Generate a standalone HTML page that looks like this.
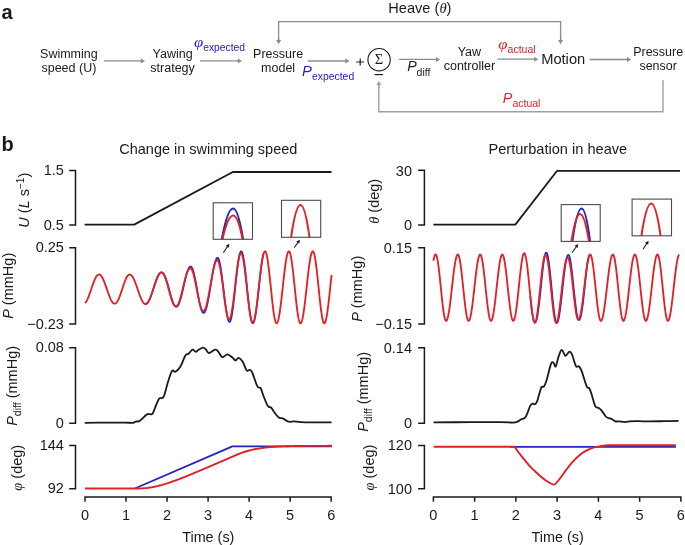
<!DOCTYPE html>
<html><head><meta charset="utf-8"><style>
html,body{margin:0;padding:0;background:#fff;}
svg{display:block;will-change:transform;}
text{font-family:'Liberation Sans',sans-serif;}
</style></head><body>
<svg width="685" height="545" viewBox="0 0 685 545">
<rect width="685" height="545" fill="#fff"/>
<text x="1.5" y="19" text-anchor="start" fill="#1a1a1a" style="font-size:20px;font-family:'Liberation Sans', sans-serif;font-weight:bold;" >a</text>
<text x="68.9" y="57.5" text-anchor="middle" fill="#1a1a1a" style="font-size:12.5px;font-family:'Liberation Sans', sans-serif;" >Swimming</text>
<text x="68.9" y="72.3" text-anchor="middle" fill="#1a1a1a" style="font-size:12.5px;font-family:'Liberation Sans', sans-serif;" >speed (U)</text>
<line x1="103.9" y1="60.9" x2="141.3" y2="60.9" stroke="#8c8c8c" stroke-width="1.3"/>
<path d="M145 60.9 L140.8 63.4 L140.8 58.4 Z" fill="#8c8c8c"/>
<text x="172.6" y="58" text-anchor="middle" fill="#1a1a1a" style="font-size:12.5px;font-family:'Liberation Sans', sans-serif;" >Yawing</text>
<text x="172.6" y="71.6" text-anchor="middle" fill="#1a1a1a" style="font-size:12.5px;font-family:'Liberation Sans', sans-serif;" >strategy</text>
<text transform="translate(194.1,46.9) scale(1.15,1)" fill="#2323c4" style="font-size:14.5px;font-family:'Liberation Serif', serif;font-style:italic">φ</text>
<text x="203.2" y="51.3" text-anchor="start" fill="#2323c4" style="font-size:10.3px;font-family:'Liberation Sans', sans-serif;" >expected</text>
<line x1="200.1" y1="60.9" x2="238.3" y2="60.9" stroke="#8c8c8c" stroke-width="1.3"/>
<path d="M242 60.9 L237.8 63.4 L237.8 58.4 Z" fill="#8c8c8c"/>
<text x="278.1" y="58" text-anchor="middle" fill="#1a1a1a" style="font-size:12.5px;font-family:'Liberation Sans', sans-serif;" >Pressure</text>
<text x="278.1" y="72" text-anchor="middle" fill="#1a1a1a" style="font-size:12.5px;font-family:'Liberation Sans', sans-serif;" >model</text>
<path d="M278.6 40 V21.7 H560.6 V40" fill="none" stroke="#8c8c8c" stroke-width="1.3"/>
<line x1="278.6" y1="38" x2="278.6" y2="40.6" stroke="#8c8c8c" stroke-width="1.3"/>
<path d="M278.6 44.3 L276.1 40.1 L281.1 40.1 Z" fill="#8c8c8c"/>
<line x1="560.6" y1="38" x2="560.6" y2="40.6" stroke="#8c8c8c" stroke-width="1.3"/>
<path d="M560.6 44.3 L558.1 40.1 L563.1 40.1 Z" fill="#8c8c8c"/>
<text x="388.3" y="12.6" text-anchor="start" fill="#1a1a1a" style="font-size:14.6px;font-family:'Liberation Sans', sans-serif;" >Heave (<tspan style="font-family:'Liberation Serif', serif;font-style:italic">θ</tspan>)</text>
<line x1="307.7" y1="61" x2="345.8" y2="61" stroke="#8c8c8c" stroke-width="1.3"/>
<path d="M349.5 61 L345.3 63.5 L345.3 58.5 Z" fill="#8c8c8c"/>
<text x="302" y="75.9" text-anchor="start" fill="#2323c4" style="font-size:14.8px;font-family:'Liberation Sans', sans-serif;font-style:italic;" >P</text>
<text x="312" y="79.8" text-anchor="start" fill="#2323c4" style="font-size:10.4px;font-family:'Liberation Sans', sans-serif;" >expected</text>
<path d="M356.2 62.0 H364.0 M360.2 58.5 V65.5" stroke="#1a1a1a" stroke-width="1.15" fill="none"/>
<circle cx="379.1" cy="59.7" r="11.2" fill="none" stroke="#1a1a1a" stroke-width="1.1"/>
<text x="379.1" y="64.2" text-anchor="middle" fill="#1a1a1a" style="font-size:14.5px;font-family:'Liberation Serif', serif;" >Σ</text>
<line x1="374.6" y1="74.6" x2="383" y2="74.6" stroke="#1a1a1a" stroke-width="1.2"/>
<line x1="399.1" y1="59.4" x2="436.5" y2="59.4" stroke="#8c8c8c" stroke-width="1.3"/>
<path d="M440.2 59.4 L436 61.9 L436 56.9 Z" fill="#8c8c8c"/>
<text x="407.2" y="71.3" text-anchor="start" fill="#1a1a1a" style="font-size:14.2px;font-family:'Liberation Sans', sans-serif;font-style:italic;" >P</text>
<text x="416.6" y="76" text-anchor="start" fill="#1a1a1a" style="font-size:10.5px;font-family:'Liberation Sans', sans-serif;" >diff</text>
<text x="469.4" y="55.6" text-anchor="middle" fill="#1a1a1a" style="font-size:12.5px;font-family:'Liberation Sans', sans-serif;" >Yaw</text>
<text x="469.4" y="70" text-anchor="middle" fill="#1a1a1a" style="font-size:12.5px;font-family:'Liberation Sans', sans-serif;" >controller</text>
<text transform="translate(498.3,48.9) scale(1.15,1)" fill="#e02228" style="font-size:14.5px;font-family:'Liberation Serif', serif;font-style:italic">φ</text>
<text x="507.6" y="53.3" text-anchor="start" fill="#e02228" style="font-size:10.5px;font-family:'Liberation Sans', sans-serif;" >actual</text>
<line x1="497.6" y1="59.2" x2="534.7" y2="59.2" stroke="#8c8c8c" stroke-width="1.3"/>
<path d="M538.4 59.2 L534.2 61.7 L534.2 56.7 Z" fill="#8c8c8c"/>
<text x="563.2" y="64.2" text-anchor="middle" fill="#1a1a1a" style="font-size:14.7px;font-family:'Liberation Sans', sans-serif;" >Motion</text>
<line x1="589.5" y1="59.5" x2="627.5" y2="59.5" stroke="#8c8c8c" stroke-width="1.3"/>
<path d="M631.2 59.5 L627 62 L627 57 Z" fill="#8c8c8c"/>
<text x="658.2" y="55.6" text-anchor="middle" fill="#1a1a1a" style="font-size:12.5px;font-family:'Liberation Sans', sans-serif;" >Pressure</text>
<text x="658.2" y="70.1" text-anchor="middle" fill="#1a1a1a" style="font-size:12.5px;font-family:'Liberation Sans', sans-serif;" >sensor</text>
<path d="M663 80.2 V111.8 H378.8 V85" fill="none" stroke="#a0a0a0" stroke-width="1.4"/>
<line x1="378.8" y1="88" x2="378.8" y2="84.6" stroke="#a0a0a0" stroke-width="1.3"/>
<path d="M378.8 80.9 L381.3 85.1 L376.3 85.1 Z" fill="#a0a0a0"/>
<text x="502.8" y="102.5" text-anchor="start" fill="#e02228" style="font-size:14.3px;font-family:'Liberation Sans', sans-serif;font-style:italic;" >P</text>
<text x="512.4" y="106.9" text-anchor="start" fill="#e02228" style="font-size:10.5px;font-family:'Liberation Sans', sans-serif;" >actual</text>
<text x="1.5" y="151" text-anchor="start" fill="#1a1a1a" style="font-size:20px;font-family:'Liberation Sans', sans-serif;font-weight:bold;" >b</text>
<text x="208.3" y="154" text-anchor="middle" fill="#1a1a1a" style="font-size:14.5px;font-family:'Liberation Sans', sans-serif;" >Change in swimming speed</text>
<text x="557.8" y="154" text-anchor="middle" fill="#1a1a1a" style="font-size:14.6px;font-family:'Liberation Sans', sans-serif;" >Perturbation in heave</text>
<path d="M69.2 170.5 H75.5 V225 H69.2" fill="none" stroke="#1a1a1a" stroke-width="1.5"/>
<text x="63.9" y="175.1" text-anchor="end" fill="#1a1a1a" style="font-size:14.5px;font-family:'Liberation Sans', sans-serif;" >1.5</text>
<text x="63.9" y="229.6" text-anchor="end" fill="#1a1a1a" style="font-size:14.5px;font-family:'Liberation Sans', sans-serif;" >0.5</text>
<path d="M69.2 247.7 H75.5 V323.9 H69.2" fill="none" stroke="#1a1a1a" stroke-width="1.5"/>
<text x="63.9" y="252.3" text-anchor="end" fill="#1a1a1a" style="font-size:14.5px;font-family:'Liberation Sans', sans-serif;" >0.25</text>
<text x="63.9" y="328.5" text-anchor="end" fill="#1a1a1a" style="font-size:14.5px;font-family:'Liberation Sans', sans-serif;" >−0.23</text>
<path d="M69.2 347.7 H75.5 V423.3 H69.2" fill="none" stroke="#1a1a1a" stroke-width="1.5"/>
<text x="63.9" y="352.3" text-anchor="end" fill="#1a1a1a" style="font-size:14.5px;font-family:'Liberation Sans', sans-serif;" >0.08</text>
<text x="63.9" y="427.9" text-anchor="end" fill="#1a1a1a" style="font-size:14.5px;font-family:'Liberation Sans', sans-serif;" >0</text>
<path d="M69.2 445.4 H75.5 V488.7 H69.2" fill="none" stroke="#1a1a1a" stroke-width="1.5"/>
<text x="63.9" y="450" text-anchor="end" fill="#1a1a1a" style="font-size:14.5px;font-family:'Liberation Sans', sans-serif;" >144</text>
<text x="63.9" y="493.3" text-anchor="end" fill="#1a1a1a" style="font-size:14.5px;font-family:'Liberation Sans', sans-serif;" >92</text>
<path d="M85 501.8 V497 H331.18 V501.8 M126.03 497 V501.8 M167.06 497 V501.8 M208.09 497 V501.8 M249.12 497 V501.8 M290.15 497 V501.8" fill="none" stroke="#1a1a1a" stroke-width="1.5"/>
<text x="85" y="519.8" text-anchor="middle" fill="#1a1a1a" style="font-size:14.5px;font-family:'Liberation Sans', sans-serif;" >0</text>
<text x="126.03" y="519.8" text-anchor="middle" fill="#1a1a1a" style="font-size:14.5px;font-family:'Liberation Sans', sans-serif;" >1</text>
<text x="167.06" y="519.8" text-anchor="middle" fill="#1a1a1a" style="font-size:14.5px;font-family:'Liberation Sans', sans-serif;" >2</text>
<text x="208.09" y="519.8" text-anchor="middle" fill="#1a1a1a" style="font-size:14.5px;font-family:'Liberation Sans', sans-serif;" >3</text>
<text x="249.12" y="519.8" text-anchor="middle" fill="#1a1a1a" style="font-size:14.5px;font-family:'Liberation Sans', sans-serif;" >4</text>
<text x="290.15" y="519.8" text-anchor="middle" fill="#1a1a1a" style="font-size:14.5px;font-family:'Liberation Sans', sans-serif;" >5</text>
<text x="331.18" y="519.8" text-anchor="middle" fill="#1a1a1a" style="font-size:14.5px;font-family:'Liberation Sans', sans-serif;" >6</text>
<text x="208.3" y="541.8" text-anchor="middle" fill="#1a1a1a" style="font-size:14.4px;font-family:'Liberation Sans', sans-serif;" >Time (s)</text>
<text transform="translate(28.8,200.2) rotate(-90)" text-anchor="middle" fill="#1a1a1a" style="font-size:14.5px;font-family:'Liberation Sans', sans-serif"><tspan style="font-style:italic">U</tspan> (<tspan style="font-style:italic">L</tspan> s<tspan dy="-5" style="font-size:10px">−1</tspan><tspan dy="5">)</tspan></text>
<text transform="translate(13.4,285.8) rotate(-90)" text-anchor="middle" fill="#1a1a1a" style="font-size:14.5px;font-family:'Liberation Sans', sans-serif"><tspan style="font-style:italic">P</tspan> (mmHg)</text>
<text transform="translate(17.4,385.9) rotate(-90)" text-anchor="middle" fill="#1a1a1a" style="font-size:14.5px;font-family:'Liberation Sans', sans-serif"><tspan style="font-style:italic">P</tspan><tspan dy="4" style="font-size:10.5px">diff</tspan><tspan dy="-4"> (mmHg)</tspan></text>
<text transform="translate(21.5,467.8) rotate(-90)" text-anchor="middle" fill="#1a1a1a" style="font-size:14.5px;font-family:'Liberation Sans', sans-serif"><tspan style="font-family:'Liberation Serif', serif;font-style:italic">φ</tspan> (deg)</text>
<path d="M418.1 170.2 H424.4 V225 H418.1" fill="none" stroke="#1a1a1a" stroke-width="1.5"/>
<text x="412" y="176" text-anchor="end" fill="#1a1a1a" style="font-size:14.5px;font-family:'Liberation Sans', sans-serif;" >30</text>
<text x="412" y="230" text-anchor="end" fill="#1a1a1a" style="font-size:14.5px;font-family:'Liberation Sans', sans-serif;" >0</text>
<path d="M418.1 247.7 H424.4 V323.9 H418.1" fill="none" stroke="#1a1a1a" stroke-width="1.5"/>
<text x="412" y="252.7" text-anchor="end" fill="#1a1a1a" style="font-size:14.5px;font-family:'Liberation Sans', sans-serif;" >0.15</text>
<text x="412" y="328.9" text-anchor="end" fill="#1a1a1a" style="font-size:14.5px;font-family:'Liberation Sans', sans-serif;" >−0.15</text>
<path d="M418.1 347.7 H424.4 V423.3 H418.1" fill="none" stroke="#1a1a1a" stroke-width="1.5"/>
<text x="412" y="352.7" text-anchor="end" fill="#1a1a1a" style="font-size:14.5px;font-family:'Liberation Sans', sans-serif;" >0.14</text>
<text x="412" y="428.3" text-anchor="end" fill="#1a1a1a" style="font-size:14.5px;font-family:'Liberation Sans', sans-serif;" >0</text>
<path d="M418.1 445.4 H424.4 V488.7 H418.1" fill="none" stroke="#1a1a1a" stroke-width="1.5"/>
<text x="412" y="450.4" text-anchor="end" fill="#1a1a1a" style="font-size:14.5px;font-family:'Liberation Sans', sans-serif;" >120</text>
<text x="412" y="493.7" text-anchor="end" fill="#1a1a1a" style="font-size:14.5px;font-family:'Liberation Sans', sans-serif;" >100</text>
<path d="M433.4 501.8 V497 H680.9 V501.8 M474.65 497 V501.8 M515.9 497 V501.8 M557.15 497 V501.8 M598.4 497 V501.8 M639.65 497 V501.8" fill="none" stroke="#1a1a1a" stroke-width="1.5"/>
<text x="433.4" y="519.8" text-anchor="middle" fill="#1a1a1a" style="font-size:14.5px;font-family:'Liberation Sans', sans-serif;" >0</text>
<text x="474.65" y="519.8" text-anchor="middle" fill="#1a1a1a" style="font-size:14.5px;font-family:'Liberation Sans', sans-serif;" >1</text>
<text x="515.9" y="519.8" text-anchor="middle" fill="#1a1a1a" style="font-size:14.5px;font-family:'Liberation Sans', sans-serif;" >2</text>
<text x="557.15" y="519.8" text-anchor="middle" fill="#1a1a1a" style="font-size:14.5px;font-family:'Liberation Sans', sans-serif;" >3</text>
<text x="598.4" y="519.8" text-anchor="middle" fill="#1a1a1a" style="font-size:14.5px;font-family:'Liberation Sans', sans-serif;" >4</text>
<text x="639.65" y="519.8" text-anchor="middle" fill="#1a1a1a" style="font-size:14.5px;font-family:'Liberation Sans', sans-serif;" >5</text>
<text x="680.9" y="519.8" text-anchor="middle" fill="#1a1a1a" style="font-size:14.5px;font-family:'Liberation Sans', sans-serif;" >6</text>
<text x="557.6" y="541.8" text-anchor="middle" fill="#1a1a1a" style="font-size:14.4px;font-family:'Liberation Sans', sans-serif;" >Time (s)</text>
<text transform="translate(379.4,201.3) rotate(-90)" text-anchor="middle" fill="#1a1a1a" style="font-size:14.5px;font-family:'Liberation Sans', sans-serif"><tspan style="font-family:'Liberation Serif', serif;font-style:italic">θ</tspan> (deg)</text>
<text transform="translate(361.6,288.8) rotate(-90)" text-anchor="middle" fill="#1a1a1a" style="font-size:14.5px;font-family:'Liberation Sans', sans-serif"><tspan style="font-style:italic">P</tspan> (mmHg)</text>
<text transform="translate(367.7,391.9) rotate(-90)" text-anchor="middle" fill="#1a1a1a" style="font-size:14.5px;font-family:'Liberation Sans', sans-serif"><tspan style="font-style:italic">P</tspan><tspan dy="4" style="font-size:10.5px">diff</tspan><tspan dy="-4"> (mmHg)</tspan></text>
<text transform="translate(373.8,467.6) rotate(-90)" text-anchor="middle" fill="#1a1a1a" style="font-size:14.5px;font-family:'Liberation Sans', sans-serif"><tspan style="font-family:'Liberation Serif', serif;font-style:italic">φ</tspan> (deg)</text>
<path d="M84.6 224.6 L134.2 224.6 L232.8 172 L331.5 172" fill="none" stroke="#1a1a1a" stroke-width="1.8" stroke-linejoin="round" stroke-linecap="butt" />
<path d="M433.3 224.6 L515.3 224.6 L557.1 170.8 L680 170.8" fill="none" stroke="#1a1a1a" stroke-width="1.8" stroke-linejoin="round" stroke-linecap="butt" />
<path d="M144.49 303.45 L144.9 303.65 L145.31 303.76 L145.72 303.77 L146.13 303.67 L146.55 303.48 L146.96 303.2 L147.37 302.82 L147.78 302.35 L148.19 301.8 L148.6 301.15 L149.01 300.42 L149.42 299.62 L149.83 298.74 L150.24 297.8 L150.65 296.79 L151.06 295.73 L151.47 294.62 L151.88 293.46 L152.29 292.27 L152.7 291.05 L153.11 289.82 L153.52 288.57 L153.93 287.31 L154.34 286.06 L154.75 284.82 L155.16 283.6 L155.57 282.41 L155.98 281.25 L156.39 280.14 L156.8 279.07 L157.21 278.06 L157.62 277.12 L158.03 276.25 L158.44 275.45 L158.85 274.73 L159.26 274.1 L159.67 273.56 L160.08 273.12 L160.5 272.78 L160.91 272.53 L161.32 272.39 L161.73 272.36 L162.14 272.45 L162.55 272.66 L162.96 273 L163.37 273.45 L163.78 274.02 L164.19 274.7 L164.6 275.5 L165.01 276.39 L165.42 277.39 L165.83 278.47 L166.24 279.64 L166.65 280.89 L167.06 282.19 L167.47 283.58 L167.88 285.02 L168.29 286.5 L168.7 288 L169.11 289.52 L169.52 291.03 L169.93 292.54 L170.34 294.03 L170.75 295.49 L171.16 296.9 L171.57 298.26 L171.98 299.55 L172.39 300.77 L172.8 301.9 L173.21 302.93 L173.62 303.85 L174.04 304.66 L174.45 305.35 L174.86 305.92 L175.27 306.35 L175.68 306.65 L176.09 306.8 L176.5 306.81 L176.91 306.66 L177.32 306.37 L177.73 305.92 L178.14 305.32 L178.55 304.57 L178.96 303.69 L179.37 302.67 L179.78 301.52 L180.19 300.25 L180.6 298.88 L181.01 297.4 L181.42 295.84 L181.83 294.19 L182.24 292.49 L182.65 290.73 L183.06 288.94 L183.47 287.12 L183.88 285.3 L184.29 283.49 L184.7 281.7 L185.11 279.94 L185.52 278.24 L185.93 276.6 L186.34 275.05 L186.75 273.59 L187.16 272.24 L187.57 271 L187.99 269.9 L188.4 268.93 L188.81 268.12 L189.22 267.46 L189.63 266.97 L190.04 266.65 L190.45 266.51 L190.86 266.57 L191.27 266.84 L191.68 267.32 L192.09 268.02 L192.5 268.91 L192.91 270.01 L193.32 271.29 L193.73 272.75 L194.14 274.38 L194.55 276.16 L194.96 278.07 L195.37 280.1 L195.78 282.23 L196.19 284.43 L196.6 286.69 L197.01 288.99 L197.42 291.29 L197.83 293.59 L198.24 295.86 L198.65 298.06 L199.06 300.19 L199.47 302.22 L199.88 304.13 L200.29 305.9 L200.7 307.5 L201.11 308.93 L201.53 310.16 L201.94 311.19 L202.35 312 L202.76 312.57 L203.17 312.91 L203.58 313 L203.99 312.89 L204.4 312.55 L204.81 312 L205.22 311.24 L205.63 310.28 L206.04 309.11 L206.45 307.74 L206.86 306.2 L207.27 304.48 L207.68 302.6 L208.09 300.57 L208.5 298.42 L208.91 296.15 L209.32 293.79 L209.73 291.35 L210.14 288.86 L210.55 286.33 L210.96 283.79 L211.37 281.25 L211.78 278.75 L212.19 276.29 L212.6 273.91 L213.01 271.62 L213.42 269.45 L213.83 267.41 L214.24 265.52 L214.65 263.8 L215.07 262.27 L215.48 260.93 L215.89 259.82 L216.3 258.93 L216.71 258.27 L217.12 257.86 L217.53 257.71 L217.94 257.89 L218.35 258.42 L218.76 259.29 L219.17 260.5 L219.58 262.04 L219.99 263.88 L220.4 266.03 L220.81 268.44 L221.22 271.1 L221.63 273.97 L222.04 277.04 L222.45 280.25 L222.86 283.58 L223.27 286.99 L223.68 290.44 L224.09 293.89 L224.5 297.31 L224.91 300.64 L225.32 303.85 L225.73 306.9 L226.14 309.76 L226.55 312.39 L226.96 314.75 L227.37 316.82 L227.78 318.57 L228.19 319.98 L228.61 321.02 L229.02 321.68 L229.43 321.95 L229.84 321.81 L230.25 321.27 L230.66 320.32 L231.07 318.97 L231.48 317.23 L231.89 315.13 L232.3 312.67 L232.71 309.9 L233.12 306.73 L233.53 303.34 L233.94 299.77 L234.35 296.04 L234.76 292.21 L235.17 288.33 L235.58 284.43 L235.99 280.57 L236.4 276.79 L236.81 273.13 L237.22 269.63 L237.63 266.35 L238.04 263.3 L238.45 260.54 L238.86 258.1 L239.27 255.99 L239.68 254.25 L240.09 252.9 L240.5 251.96 L240.91 251.42 L241.32 251.31 L241.73 251.64 L242.14 252.41 L242.56 253.61 L242.97 255.22 L243.38 257.23 L243.79 259.61 L244.2 262.33 L244.61 265.35 L245.02 268.65 L245.43 272.17 L245.84 275.89 L246.25 279.74 L246.66 283.68 L247.07 287.67 L247.48 291.66 L247.89 295.59 L248.3 299.42 L248.71 303.1 L249.12 306.58 L249.53 309.83 L249.94 312.8 L250.35 315.46 L250.76 317.77 L251.17 319.71 L251.58 321.24 L251.99 322.36 L252.4 323.05 L252.81 323.3 L253.22 323.12 L253.63 322.54 L254.04 321.55 L254.45 320.18 L254.86 318.43 L255.27 316.34 L255.68 313.91 L256.1 311.18 L256.51 308.19 L256.92 304.95 L257.33 301.52 L257.74 297.92 L258.15 294.21 L258.56 290.41 L258.97 286.58 L259.38 282.76 L259.79 278.99 L260.2 275.32 L260.61 271.78 L261.02 268.41 L261.43 265.26 L261.84 262.41 L262.25 259.82 L262.66 257.54 L263.07 255.59 L263.48 253.98" fill="none" stroke="#2323c4" stroke-width="1.7" stroke-linejoin="round" stroke-linecap="butt" />
<path d="M85 303.06 L85.41 302.65 L85.82 302.15 L86.23 301.56 L86.64 300.88 L87.05 300.13 L87.46 299.29 L87.87 298.39 L88.28 297.42 L88.69 296.39 L89.1 295.31 L89.51 294.19 L89.92 293.03 L90.33 291.85 L90.74 290.64 L91.15 289.43 L91.56 288.21 L91.98 287 L92.39 285.81 L92.8 284.64 L93.21 283.49 L93.62 282.39 L94.03 281.34 L94.44 280.33 L94.85 279.39 L95.26 278.52 L95.67 277.72 L96.08 277 L96.49 276.36 L96.9 275.81 L97.31 275.35 L97.72 274.99 L98.13 274.73 L98.54 274.56 L98.95 274.5 L99.36 274.54 L99.77 274.67 L100.18 274.91 L100.59 275.23 L101 275.66 L101.41 276.17 L101.82 276.77 L102.23 277.45 L102.64 278.21 L103.05 279.04 L103.46 279.95 L103.87 280.91 L104.28 281.93 L104.69 283 L105.1 284.1 L105.52 285.25 L105.93 286.41 L106.34 287.6 L106.75 288.8 L107.16 289.99 L107.57 291.19 L107.98 292.36 L108.39 293.52 L108.8 294.65 L109.21 295.74 L109.62 296.78 L110.03 297.77 L110.44 298.71 L110.85 299.58 L111.26 300.37 L111.67 301.1 L112.08 301.74 L112.49 302.3 L112.9 302.76 L113.31 303.14 L113.72 303.42 L114.13 303.61 L114.54 303.69 L114.95 303.68 L115.36 303.56 L115.77 303.33 L116.18 303 L116.59 302.57 L117 302.03 L117.41 301.4 L117.82 300.68 L118.23 299.88 L118.64 298.99 L119.05 298.04 L119.47 297.01 L119.88 295.93 L120.29 294.8 L120.7 293.62 L121.11 292.41 L121.52 291.18 L121.93 289.93 L122.34 288.68 L122.75 287.43 L123.16 286.19 L123.57 284.97 L123.98 283.79 L124.39 282.64 L124.8 281.54 L125.21 280.5 L125.62 279.51 L126.03 278.6 L126.44 277.77 L126.85 277.02 L127.26 276.36 L127.67 275.8 L128.08 275.33 L128.49 274.96 L128.9 274.7 L129.31 274.55 L129.72 274.5 L130.13 274.55 L130.54 274.7 L130.95 274.95 L131.36 275.29 L131.77 275.72 L132.18 276.25 L132.59 276.85 L133.01 277.54 L133.42 278.31 L133.83 279.14 L134.24 280.05 L134.65 280.99 L135.06 281.99 L135.47 283.04 L135.88 284.14 L136.29 285.27 L136.7 286.43 L137.11 287.61 L137.52 288.8 L137.93 290 L138.34 291.2 L138.75 292.38 L139.16 293.55 L139.57 294.69 L139.98 295.8 L140.39 296.86 L140.8 297.87 L141.21 298.83 L141.62 299.73 L142.03 300.56 L142.44 301.31 L142.85 301.98 L143.26 302.57 L143.67 303.07 L144.08 303.47 L144.49 303.78 L144.9 303.99 L145.31 304.1 L145.72 304.11 L146.13 304.02 L146.55 303.83 L146.96 303.53 L147.37 303.13 L147.78 302.64 L148.19 302.05 L148.6 301.37 L149.01 300.61 L149.42 299.76 L149.83 298.84 L150.24 297.84 L150.65 296.78 L151.06 295.67 L151.47 294.51 L151.88 293.3 L152.29 292.06 L152.7 290.79 L153.11 289.51 L153.52 288.21 L153.93 286.92 L154.34 285.64 L154.75 284.37 L155.16 283.13 L155.57 281.92 L155.98 280.76 L156.39 279.64 L156.8 278.58 L157.21 277.59 L157.62 276.67 L158.03 275.83 L158.44 275.08 L158.85 274.41 L159.26 273.83 L159.67 273.36 L160.08 272.99 L160.5 272.72 L160.91 272.56 L161.32 272.49 L161.73 272.53 L162.14 272.69 L162.55 272.98 L162.96 273.39 L163.37 273.92 L163.78 274.57 L164.19 275.34 L164.6 276.21 L165.01 277.19 L165.42 278.26 L165.83 279.43 L166.24 280.67 L166.65 281.98 L167.06 283.35 L167.47 284.77 L167.88 286.22 L168.29 287.71 L168.7 289.21 L169.11 290.72 L169.52 292.22 L169.93 293.69 L170.34 295.14 L170.75 296.54 L171.16 297.89 L171.57 299.18 L171.98 300.39 L172.39 301.51 L172.8 302.53 L173.21 303.46 L173.62 304.27 L174.04 304.96 L174.45 305.52 L174.86 305.96 L175.27 306.26 L175.68 306.42 L176.09 306.43 L176.5 306.3 L176.91 306.01 L177.32 305.57 L177.73 304.99 L178.14 304.27 L178.55 303.42 L178.96 302.43 L179.37 301.32 L179.78 300.1 L180.19 298.77 L180.6 297.35 L181.01 295.85 L181.42 294.27 L181.83 292.64 L182.24 290.96 L182.65 289.26 L183.06 287.53 L183.47 285.8 L183.88 284.08 L184.29 282.39 L184.7 280.73 L185.11 279.13 L185.52 277.6 L185.93 276.14 L186.34 274.78 L186.75 273.52 L187.16 272.38 L187.57 271.36 L187.99 270.47 L188.4 269.72 L188.81 269.13 L189.22 268.68 L189.63 268.4 L190.04 268.27 L190.45 268.27 L190.86 268.46 L191.27 268.85 L191.68 269.44 L192.09 270.22 L192.5 271.18 L192.91 272.32 L193.32 273.63 L193.73 275.1 L194.14 276.71 L194.55 278.45 L194.96 280.31 L195.37 282.26 L195.78 284.28 L196.19 286.37 L196.6 288.49 L197.01 290.63 L197.42 292.76 L197.83 294.87 L198.24 296.93 L198.65 298.92 L199.06 300.83 L199.47 302.62 L199.88 304.29 L200.29 305.81 L200.7 307.17 L201.11 308.35 L201.53 309.33 L201.94 310.12 L202.35 310.69 L202.76 311.04 L203.17 311.17 L203.58 311.11 L203.99 310.84 L204.4 310.38 L204.81 309.72 L205.22 308.86 L205.63 307.81 L206.04 306.59 L206.45 305.18 L206.86 303.62 L207.27 301.9 L207.68 300.05 L208.09 298.07 L208.5 295.98 L208.91 293.8 L209.32 291.55 L209.73 289.25 L210.14 286.9 L210.55 284.55 L210.96 282.19 L211.37 279.87 L211.78 277.58 L212.19 275.36 L212.6 273.23 L213.01 271.2 L213.42 269.29 L213.83 267.52 L214.24 265.9 L214.65 264.46 L215.07 263.2 L215.48 262.14 L215.89 261.28 L216.3 260.65 L216.71 260.24 L217.12 260.05 L217.53 260.14 L217.94 260.55 L218.35 261.28 L218.76 262.32 L219.17 263.67 L219.58 265.31 L219.99 267.23 L220.4 269.41 L220.81 271.82 L221.22 274.44 L221.63 277.24 L222.04 280.19 L222.45 283.25 L222.86 286.4 L223.27 289.59 L223.68 292.79 L224.09 295.96 L224.5 299.07 L224.91 302.07 L225.32 304.93 L225.73 307.62 L226.14 310.1 L226.55 312.34 L226.96 314.31 L227.37 315.99 L227.78 317.36 L228.19 318.39 L228.61 319.07 L229.02 319.38 L229.43 319.24 L229.84 318.74 L230.25 317.86 L230.66 316.62 L231.07 315.03 L231.48 313.1 L231.89 310.87 L232.3 308.34 L232.71 305.56 L233.12 302.55 L233.53 299.35 L233.94 295.99 L234.35 292.52 L234.76 288.96 L235.17 285.37 L235.58 281.79 L235.99 278.25 L236.4 274.81 L236.81 271.49 L237.22 268.34 L237.63 265.4 L238.04 262.71 L238.45 260.29 L238.86 258.18 L239.27 256.4 L239.68 254.97 L240.09 253.92 L240.5 253.26 L240.91 253 L241.32 253.17 L241.73 253.75 L242.14 254.73 L242.56 256.11 L242.97 257.86 L243.38 259.97 L243.79 262.41 L244.2 265.15 L244.61 268.16 L245.02 271.41 L245.43 274.86 L245.84 278.47 L246.25 282.19 L246.66 285.98 L247.07 289.8 L247.48 293.6 L247.89 297.33 L248.3 300.95 L248.71 304.42 L249.12 307.69 L249.53 310.73 L249.94 313.49 L250.35 315.95 L250.76 318.08 L251.17 319.84 L251.58 321.22 L251.99 322.19 L252.4 322.76 L252.81 322.89 L253.22 322.6 L253.63 321.92 L254.04 320.87 L254.45 319.44 L254.86 317.66 L255.27 315.54 L255.68 313.12 L256.1 310.4 L256.51 307.44 L256.92 304.25 L257.33 300.87 L257.74 297.34 L258.15 293.69 L258.56 289.98 L258.97 286.23 L259.38 282.49 L259.79 278.8 L260.2 275.2 L260.61 271.73 L261.02 268.43 L261.43 265.34 L261.84 262.48 L262.25 259.89 L262.66 257.6 L263.07 255.64 L263.48 254.02 L263.89 252.77 L264.3 251.89 L264.71 251.41 L265.12 251.32 L265.53 251.67 L265.94 252.47 L266.35 253.69 L266.76 255.33 L267.17 257.36 L267.58 259.76 L267.99 262.5 L268.4 265.55 L268.81 268.86 L269.22 272.4 L269.63 276.13 L270.05 279.99 L270.46 283.95 L270.87 287.94 L271.28 291.93 L271.69 295.86 L272.1 299.69 L272.51 303.36 L272.92 306.83 L273.33 310.06 L273.74 313.02 L274.15 315.65 L274.56 317.94 L274.97 319.84 L275.38 321.35 L275.79 322.44 L276.2 323.09 L276.61 323.3 L277.02 323.09 L277.43 322.49 L277.84 321.51 L278.25 320.15 L278.66 318.42 L279.07 316.36 L279.48 313.98 L279.89 311.3 L280.3 308.36 L280.71 305.2 L281.12 301.83 L281.53 298.3 L281.94 294.66 L282.35 290.93 L282.76 287.17 L283.17 283.4 L283.59 279.68 L284 276.04 L284.41 272.52 L284.82 269.17 L285.23 266.02 L285.64 263.1 L286.05 260.44 L286.46 258.08 L286.87 256.04 L287.28 254.35 L287.69 253.01 L288.1 252.05 L288.51 251.48 L288.92 251.3 L289.33 251.54 L289.74 252.23 L290.15 253.34 L290.56 254.88 L290.97 256.81 L291.38 259.12 L291.79 261.78 L292.2 264.76 L292.61 268.01 L293.02 271.5 L293.43 275.18 L293.84 279.02 L294.25 282.95 L294.66 286.94 L295.07 290.94 L295.48 294.89 L295.89 298.74 L296.3 302.46 L296.71 305.98 L297.13 309.28 L297.54 312.31 L297.95 315.02 L298.36 317.4 L298.77 319.4 L299.18 321.01 L299.59 322.2 L300 322.97 L300.41 323.29 L300.82 323.18 L301.23 322.68 L301.64 321.79 L302.05 320.52 L302.46 318.89 L302.87 316.91 L303.28 314.6 L303.69 312 L304.1 309.12 L304.51 306.01 L304.92 302.69 L305.33 299.2 L305.74 295.58 L306.15 291.87 L306.56 288.11 L306.97 284.34 L307.38 280.6 L307.79 276.94 L308.2 273.39 L308.61 269.99 L309.02 266.79 L309.43 263.8 L309.84 261.08 L310.25 258.64 L310.67 256.52 L311.08 254.74 L311.49 253.31 L311.9 252.26 L312.31 251.59 L312.72 251.31 L313.13 251.44 L313.54 252.03 L313.95 253.05 L314.36 254.51 L314.77 256.38 L315.18 258.63 L315.59 261.25 L316 264.19 L316.41 267.43 L316.82 270.91 L317.23 274.6 L317.64 278.44 L318.05 282.4 L318.46 286.42 L318.87 290.45 L319.28 294.44 L319.69 298.35 L320.1 302.11 L320.51 305.69 L320.92 309.03 L321.33 312.11 L321.74 314.87 L322.15 317.29 L322.56 319.33 L322.97 320.96 L323.38 322.18 L323.79 322.96 L324.2 323.29 L324.62 323.18 L325.03 322.64 L325.44 321.69 L325.85 320.34 L326.26 318.6 L326.67 316.5 L327.08 314.05 L327.49 311.29 L327.9 308.24 L328.31 304.96 L328.72 301.46 L329.13 297.8 L329.54 294.01 L329.95 290.15 L330.36 286.25 L330.77 282.37 L331.18 278.54 L331.59 274.82" fill="none" stroke="#e02228" stroke-width="1.85" stroke-linejoin="round" stroke-linecap="butt" />
<path d="M530.34 296.24 L530.75 300.29 L531.16 304.16 L531.57 307.78 L531.99 311.1 L532.4 314.08 L532.81 316.47 L533.23 318.5 L533.64 320.15 L534.05 321.38 L534.46 322.19 L534.88 322.57 L535.29 322.5 L535.7 322.02 L536.11 321.11 L536.52 319.8 L536.94 318.09 L537.35 316.02 L537.76 313.6 L538.17 310.86 L538.59 307.83 L539 304.56 L539.41 301.09 L539.82 297.44 L540.24 293.68 L540.65 289.84 L541.06 285.64 L541.48 281.46 L541.89 277.37 L542.3 273.43 L542.71 269.68 L543.12 266.2 L543.54 263.02 L543.95 260.2 L544.36 257.77 L544.77 255.76 L545.19 254.22 L545.6 253.16 L546.01 252.59 L546.42 252.54 L546.84 253.01 L547.25 253.99 L547.66 255.48 L548.08 257.45 L548.49 259.88 L548.9 262.72 L549.31 265.93 L549.72 269.47 L550.14 273.28 L550.55 277.31 L550.96 281.49 L551.38 285.77 L551.79 290.08 L552.2 294.35 L552.61 298.52 L553.02 302.54 L553.44 306.33 L553.85 309.84 L554.26 313.03 L554.67 315.84 L555.09 318.23 L555.5 320.16 L555.91 321.61 L556.32 322.55 L556.74 322.98 L557.15 322.8 L557.56 322.17 L557.98 321.11 L558.39 319.63 L558.8 317.76 L559.21 315.51 L559.62 312.93 L560.04 310.04 L560.45 306.88 L560.86 303.49 L561.27 299.93 L561.69 296.23 L562.1 292.44 L562.51 288.61 L562.92 284.79 L563.34 281.02 L563.75 277.37 L564.16 273.86 L564.58 270.55 L564.99 267.47 L565.4 264.67 L565.81 262.17 L566.23 260.01 L566.64 258.22 L567.05 256.8 L567.46 255.79 L567.88 255.19 L568.29 254.93 L568.7 255.11 L569.11 255.78 L569.52 256.92 L569.94 258.52 L570.35 260.56 L570.76 262.99 L571.17 265.79 L571.59 268.92 L572 272.32 L572.41 275.94 L572.82 279.73 L573.24 283.64 L573.65 287.6 L574.06 291.56 L574.47 295.46 L574.89 299.23 L575.3 302.83 L575.71 306.19 L576.12 309.28 L576.54 312.04 L576.95 314.43 L577.36 316.42 L577.77 317.98 L578.19 319.08 L578.6 319.72 L579.01 319.93 L579.42 319.73 L579.84 319.14 L580.25 318.19 L580.66 316.86 L581.08 315.19 L581.49 313.19 L581.9 310.88 L582.31 308 L582.73 304.82 L583.14 301.38 L583.55 297.73 L583.96 293.93 L584.38 290.04 L584.79 286.1 L585.2 282.17 L585.61 278.32 L586.02 274.59 L586.44 271.05 L586.85 267.74 L587.26 264.71 L587.67 262.01 L588.09 259.68 L588.5 257.92 L588.91 256.5 L589.33 255.45 L589.74 254.78 L590.15 254.5" fill="none" stroke="#2323c4" stroke-width="1.7" stroke-linejoin="round" stroke-linecap="butt" />
<path d="M433.4 260.76 L433.81 258.68 L434.22 256.99 L434.64 255.73 L435.05 254.9 L435.46 254.53 L435.88 254.61 L436.29 255.2 L436.7 256.28 L437.11 257.84 L437.52 259.86 L437.94 262.29 L438.35 265.12 L438.76 268.29 L439.17 271.75 L439.59 275.46 L440 279.35 L440.41 283.37 L440.82 287.45 L441.24 291.54 L441.65 295.57 L442.06 299.48 L442.47 303.21 L442.89 306.71 L443.3 309.92 L443.71 312.78 L444.12 315.27 L444.54 317.34 L444.95 318.95 L445.36 320.1 L445.77 320.74 L446.19 320.89 L446.6 320.6 L447.01 319.91 L447.42 318.82 L447.84 317.35 L448.25 315.52 L448.66 313.35 L449.07 310.86 L449.49 308.09 L449.9 305.07 L450.31 301.83 L450.72 298.42 L451.14 294.89 L451.55 291.26 L451.96 287.59 L452.38 283.92 L452.79 280.3 L453.2 276.76 L453.61 273.37 L454.02 270.14 L454.44 267.14 L454.85 264.38 L455.26 261.91 L455.67 259.76 L456.09 257.95 L456.5 256.5 L456.91 255.44 L457.32 254.77 L457.74 254.5 L458.15 254.67 L458.56 255.31 L458.97 256.42 L459.39 257.98 L459.8 259.96 L460.21 262.35 L460.62 265.09 L461.04 268.17 L461.45 271.52 L461.86 275.11 L462.27 278.87 L462.69 282.77 L463.1 286.73 L463.51 290.71 L463.92 294.65 L464.34 298.49 L464.75 302.17 L465.16 305.64 L465.57 308.86 L465.99 311.77 L466.4 314.33 L466.81 316.51 L467.22 318.28 L467.64 319.61 L468.05 320.48 L468.46 320.87 L468.88 320.81 L469.29 320.33 L469.7 319.44 L470.11 318.15 L470.52 316.49 L470.94 314.47 L471.35 312.11 L471.76 309.45 L472.17 306.52 L472.59 303.35 L473 299.99 L473.41 296.47 L473.82 292.85 L474.24 289.16 L474.65 285.45 L475.06 281.78 L475.47 278.17 L475.89 274.68 L476.3 271.36 L476.71 268.24 L477.12 265.36 L477.54 262.76 L477.95 260.48 L478.36 258.53 L478.77 256.94 L479.19 255.74 L479.6 254.94 L480.01 254.54 L480.42 254.57 L480.84 255.07 L481.25 256.04 L481.66 257.46 L482.07 259.32 L482.49 261.58 L482.9 264.22 L483.31 267.2 L483.72 270.48 L484.14 274 L484.55 277.72 L484.96 281.58 L485.38 285.53 L485.79 289.51 L486.2 293.47 L486.61 297.34 L487.02 301.07 L487.44 304.61 L487.85 307.91 L488.26 310.92 L488.67 313.59 L489.09 315.89 L489.5 317.79 L489.91 319.25 L490.32 320.26 L490.74 320.8 L491.15 320.87 L491.56 320.49 L491.97 319.69 L492.39 318.46 L492.8 316.83 L493.21 314.81 L493.62 312.44 L494.04 309.75 L494.45 306.76 L494.86 303.53 L495.27 300.08 L495.69 296.48 L496.1 292.76 L496.51 288.97 L496.92 285.16 L497.34 281.39 L497.75 277.7 L498.16 274.15 L498.57 270.77 L498.99 267.61 L499.4 264.72 L499.81 262.13 L500.22 259.87 L500.64 257.98 L501.05 256.48 L501.46 255.4 L501.88 254.73 L502.29 254.5 L502.7 254.72 L503.11 255.39 L503.52 256.51 L503.94 258.06 L504.35 260.03 L504.76 262.38 L505.17 265.08 L505.59 268.09 L506 271.37 L506.41 274.89 L506.82 278.57 L507.24 282.39 L507.65 286.28 L508.06 290.19 L508.47 294.06 L508.89 297.85 L509.3 301.49 L509.71 304.95 L510.12 308.16 L510.54 311.09 L510.95 313.7 L511.36 315.95 L511.77 317.8 L512.19 319.24 L512.6 320.24 L513.01 320.79 L513.42 320.88 L513.84 320.5 L514.25 319.66 L514.66 318.37 L515.07 316.65 L515.49 314.52 L515.9 312.01 L516.31 309.2 L516.73 306.07 L517.14 302.67 L517.55 299.05 L517.96 295.25 L518.38 291.33 L518.79 287.34 L519.2 283.33 L519.61 279.38 L520.02 275.52 L520.44 271.82 L520.85 268.33 L521.26 265.1 L521.67 262.18 L522.09 259.6 L522.5 257.42 L522.91 255.65 L523.33 254.33 L523.74 253.48 L524.15 253.1 L524.56 253.29 L524.98 253.99 L525.39 255.19 L525.8 256.88 L526.21 259.03 L526.62 261.61 L527.04 264.58 L527.45 267.9 L527.86 271.51 L528.27 275.37 L528.69 279.42 L529.1 283.59 L529.51 287.83 L529.92 292.07 L530.34 296.24 L530.75 300.29 L531.16 304.16 L531.57 307.78 L531.99 311.1 L532.4 314.08 L532.81 316.66 L533.23 318.82 L533.64 320.51 L534.05 321.71 L534.46 322.4 L534.88 322.58 L535.29 322.25 L535.7 321.33 L536.11 319.94 L536.52 318.09 L536.94 315.81 L537.35 313.13 L537.76 310.11 L538.17 306.78 L538.59 303.18 L539 299.39 L539.41 295.44 L539.82 291.4 L540.24 287.33 L540.65 283.28 L541.06 279.32 L541.48 275.49 L541.89 271.86 L542.3 268.47 L542.71 265.37 L543.12 262.61 L543.54 260.23 L543.95 258.25 L544.36 256.7 L544.77 255.6 L545.19 254.98 L545.6 254.82 L546.01 255.14 L546.42 255.78 L546.84 256.9 L547.25 258.49 L547.66 260.52 L548.08 262.98 L548.49 265.82 L548.9 269 L549.31 272.48 L549.72 276.21 L550.14 280.14 L550.55 284.19 L550.96 288.33 L551.38 292.48 L551.79 296.58 L552.2 300.57 L552.61 304.39 L553.02 307.98 L553.44 311.29 L553.85 314.26 L554.26 316.85 L554.67 319.02 L555.09 320.73 L555.5 321.96 L555.91 322.68 L556.32 322.88 L556.74 322.62 L557.15 321.62 L557.56 320.2 L557.98 318.38 L558.39 316.2 L558.8 313.68 L559.21 310.86 L559.62 307.78 L560.04 304.49 L560.45 301.02 L560.86 297.43 L561.27 293.75 L561.69 290.05 L562.1 286.36 L562.51 282.74 L562.92 279.23 L563.34 275.87 L563.75 272.7 L564.16 269.76 L564.58 267.09 L564.99 264.72 L565.4 262.67 L565.81 260.96 L566.23 259.62 L566.64 258.65 L567.05 258.06 L567.46 257.86 L567.88 258.04 L568.29 258.35 L568.7 259.11 L569.11 260.3 L569.52 261.91 L569.94 263.92 L570.35 266.29 L570.76 269 L571.17 272.01 L571.59 275.27 L572 278.75 L572.41 282.37 L572.82 286.1 L573.24 289.88 L573.65 293.64 L574.06 297.35 L574.47 300.93 L574.89 304.33 L575.3 307.5 L575.71 310.4 L576.12 312.98 L576.54 315.19 L576.95 317 L577.36 318.39 L577.77 319.32 L578.19 319.79 L578.6 319.8 L579.01 319.37 L579.42 318.56 L579.84 317.38 L580.25 315.85 L580.66 313.98 L581.08 311.8 L581.49 309.32 L581.9 306.59 L582.31 303.62 L582.73 300.46 L583.14 297.14 L583.55 293.7 L583.96 290.18 L584.38 286.62 L584.79 283.07 L585.2 279.57 L585.61 276.15 L586.02 272.87 L586.44 269.75 L586.85 266.84 L587.26 264.17 L587.67 261.78 L588.09 259.68 L588.5 257.92 L588.91 256.5 L589.33 255.45 L589.74 254.78 L590.15 254.5 L590.56 254.69 L590.98 255.36 L591.39 256.5 L591.8 258.1 L592.21 260.13 L592.62 262.57 L593.04 265.37 L593.45 268.5 L593.86 271.92 L594.27 275.56 L594.69 279.38 L595.1 283.33 L595.51 287.33 L595.92 291.35 L596.34 295.31 L596.75 299.16 L597.16 302.84 L597.58 306.3 L597.99 309.48 L598.4 312.35 L598.81 314.86 L599.23 316.97 L599.64 318.65 L600.05 319.87 L600.46 320.63 L600.88 320.9 L601.29 320.73 L601.7 320.17 L602.11 319.24 L602.52 317.94 L602.94 316.29 L603.35 314.3 L603.76 312.01 L604.17 309.43 L604.59 306.59 L605 303.54 L605.41 300.3 L605.82 296.92 L606.24 293.43 L606.65 289.87 L607.06 286.29 L607.47 282.72 L607.89 279.21 L608.3 275.8 L608.71 272.53 L609.12 269.44 L609.54 266.55 L609.95 263.92 L610.36 261.56 L610.77 259.51 L611.19 257.78 L611.6 256.4 L612.01 255.39 L612.42 254.76 L612.84 254.5 L613.25 254.68 L613.66 255.36 L614.07 256.53 L614.49 258.18 L614.9 260.27 L615.31 262.78 L615.72 265.67 L616.14 268.9 L616.55 272.41 L616.96 276.15 L617.38 280.07 L617.79 284.11 L618.2 288.2 L618.61 292.28 L619.02 296.29 L619.44 300.18 L619.85 303.87 L620.26 307.31 L620.67 310.46 L621.09 313.27 L621.5 315.68 L621.91 317.67 L622.33 319.2 L622.74 320.25 L623.15 320.81 L623.56 320.87 L623.98 320.49 L624.39 319.7 L624.8 318.5 L625.21 316.91 L625.62 314.95 L626.04 312.65 L626.45 310.03 L626.86 307.12 L627.27 303.97 L627.69 300.61 L628.1 297.09 L628.51 293.45 L628.92 289.74 L629.34 286 L629.75 282.28 L630.16 278.63 L630.58 275.1 L630.99 271.73 L631.4 268.55 L631.81 265.63 L632.23 262.98 L632.64 260.64 L633.05 258.65 L633.46 257.03 L633.88 255.79 L634.29 254.96 L634.7 254.55 L635.11 254.56 L635.52 255.03 L635.94 255.95 L636.35 257.31 L636.76 259.09 L637.17 261.26 L637.59 263.81 L638 266.68 L638.41 269.85 L638.83 273.26 L639.24 276.88 L639.65 280.64 L640.06 284.5 L640.48 288.41 L640.89 292.31 L641.3 296.14 L641.71 299.86 L642.12 303.4 L642.54 306.73 L642.95 309.8 L643.36 312.56 L643.77 314.97 L644.19 317.01 L644.6 318.64 L645.01 319.84 L645.42 320.59 L645.84 320.89 L646.25 320.75 L646.66 320.19 L647.07 319.23 L647.49 317.88 L647.9 316.15 L648.31 314.06 L648.72 311.65 L649.14 308.94 L649.55 305.96 L649.96 302.75 L650.38 299.36 L650.79 295.82 L651.2 292.18 L651.61 288.49 L652.02 284.78 L652.44 281.11 L652.85 277.53 L653.26 274.07 L653.67 270.78 L654.09 267.7 L654.5 264.87 L654.91 262.32 L655.32 260.1 L655.74 258.21 L656.15 256.69 L656.56 255.56 L656.97 254.84 L657.39 254.52 L657.8 254.64 L658.21 255.27 L658.62 256.4 L659.04 258.02 L659.45 260.1 L659.86 262.6 L660.27 265.5 L660.69 268.74 L661.1 272.27 L661.51 276.04 L661.92 280 L662.34 284.07 L662.75 288.2 L663.16 292.32 L663.58 296.37 L663.99 300.29 L664.4 304.01 L664.81 307.48 L665.23 310.64 L665.64 313.44 L666.05 315.85 L666.46 317.82 L666.88 319.32 L667.29 320.33 L667.7 320.84 L668.11 320.85 L668.52 320.43 L668.94 319.6 L669.35 318.37 L669.76 316.77 L670.17 314.8 L670.59 312.49 L671 309.87 L671.41 306.98 L671.83 303.84 L672.24 300.51 L672.65 297.01 L673.06 293.4 L673.48 289.72 L673.89 286.01 L674.3 282.33 L674.71 278.71 L675.12 275.2 L675.54 271.85 L675.95 268.7 L676.36 265.78 L676.77 263.14 L677.19 260.8 L677.6 258.8 L678.01 257.16 L678.42 255.9 L678.84 255.03 L679.25 254.58" fill="none" stroke="#e02228" stroke-width="1.85" stroke-linejoin="round" stroke-linecap="butt" />
<path d="M84.8 422.9 C89 422.85 103.3 422.65 110 422.6 C116.7 422.55 121.18 422.57 125 422.6 C128.82 422.63 131.15 422.95 132.9 422.8 C134.65 422.65 134.42 421.98 135.5 421.7 C136.58 421.42 138.23 421.62 139.4 421.1 C140.57 420.58 141.4 419.62 142.5 418.6 C143.6 417.58 145.05 415.75 146 415 C146.95 414.25 147.32 414.22 148.2 414.1 C149.08 413.98 150.5 414.48 151.3 414.3 C152.1 414.12 152.35 414.17 153 413 C153.65 411.83 154.4 409.28 155.2 407.3 C156 405.32 157.07 402.6 157.8 401.1 C158.53 399.6 158.93 398.8 159.6 398.3 C160.27 397.8 161.07 398.5 161.8 398.1 C162.53 397.7 162.97 398.58 164 395.9 C165.03 393.22 166.65 386.18 168 382 C169.35 377.82 170.9 372.5 172.1 370.8 C173.3 369.1 173.83 372.48 175.2 371.8 C176.57 371.12 178.6 369.43 180.3 366.7 C182 363.97 184.03 357.55 185.4 355.4 C186.77 353.25 187.3 354.75 188.5 353.8 C189.7 352.85 191.42 350.03 192.6 349.7 C193.78 349.37 194.58 351.8 195.6 351.8 C196.62 351.8 197.5 350.38 198.7 349.7 C199.9 349.02 201.62 347.77 202.8 347.7 C203.98 347.63 204.78 348.42 205.8 349.3 C206.82 350.18 207.37 352.93 208.9 353 C210.43 353.07 213.47 349.97 215 349.7 C216.53 349.43 216.9 350.17 218.1 351.4 C219.3 352.63 220.67 356.6 222.2 357.1 C223.73 357.6 225.6 354.33 227.3 354.4 C229 354.47 231.03 356.48 232.4 357.5 C233.77 358.52 234.48 360.43 235.5 360.5 C236.52 360.57 237.32 357.72 238.5 357.9 C239.68 358.08 241.23 359.5 242.6 361.6 C243.97 363.7 245.53 369.13 246.7 370.5 C247.87 371.87 248.68 369.47 249.6 369.8 C250.52 370.13 250.9 369.73 252.2 372.5 C253.5 375.27 256 383.8 257.4 386.4 C258.8 389 259.58 386.5 260.6 388.1 C261.62 389.7 262.28 393 263.5 396 C264.72 399 266.58 404.13 267.9 406.1 C269.22 408.07 270.25 406.65 271.4 407.8 C272.55 408.95 273.5 411.33 274.8 413 C276.1 414.67 277.88 416.92 279.2 417.8 C280.52 418.68 281.13 417.65 282.7 418.3 C284.27 418.95 286.72 421.2 288.6 421.7 C290.48 422.2 291.93 421.22 294 421.3 C296.07 421.38 297.57 422.02 301 422.2 C304.43 422.38 309.52 422.38 314.6 422.4 C319.68 422.42 328.68 422.32 331.5 422.3" fill="none" stroke="#1a1a1a" stroke-width="1.8" stroke-linejoin="round"/>
<path d="M433.6 422.3 C439.67 422.28 458.93 422.23 470 422.2 C481.07 422.17 492.82 422.03 500 422.1 C507.18 422.17 510.18 422.67 513.1 422.6 C516.02 422.53 516.18 422.22 517.5 421.7 C518.82 421.18 520.05 420.02 521 419.5 C521.95 418.98 522.47 418.97 523.2 418.6 C523.93 418.23 524.6 418.47 525.4 417.3 C526.2 416.13 527.2 413.5 528 411.6 C528.8 409.7 529.47 407.23 530.2 405.9 C530.93 404.57 531.6 403.88 532.4 403.6 C533.2 403.32 534.2 404.62 535 404.2 C535.8 403.78 536.53 402.63 537.2 401.1 C537.87 399.57 538.3 397.3 539 395 C539.7 392.7 540.57 388.73 541.4 387.3 C542.23 385.87 543.13 387.57 544 386.4 C544.87 385.23 545.43 384.07 546.6 380.3 C547.77 376.53 549.83 366.7 551 363.8 C552.17 360.9 552.82 362.47 553.6 362.9 C554.38 363.33 554.83 367.57 555.7 366.4 C556.57 365.23 557.78 358.67 558.8 355.9 C559.82 353.13 560.7 349.8 561.8 349.8 C562.9 349.8 564.15 355.6 565.4 355.9 C566.65 356.2 568.22 351.88 569.3 351.6 C570.38 351.32 570.8 351.8 571.9 354.2 C573 356.6 574.73 363.97 575.9 366 C577.07 368.03 577.97 365.62 578.9 366.4 C579.83 367.18 580.2 367.37 581.5 370.7 C582.8 374.03 585.4 383.48 586.7 386.4 C588 389.32 588.45 386.77 589.3 388.2 C590.15 389.63 590.95 392.4 591.8 395 C592.65 397.6 593.75 401.83 594.4 403.8 C595.05 405.77 594.97 406.08 595.7 406.8 C596.43 407.52 597.85 407.52 598.8 408.1 C599.75 408.68 600.23 408.9 601.4 410.3 C602.57 411.7 604.57 415.18 605.8 416.5 C607.03 417.82 607.93 417.85 608.8 418.2 C609.67 418.55 609.9 418.08 611 418.6 C612.1 419.12 614.08 420.83 615.4 421.3 C616.72 421.77 617.3 421.27 618.9 421.4 C620.5 421.53 623.25 422.12 625 422.1 C626.75 422.08 627.65 421.47 629.4 421.3 C631.15 421.13 633.32 421.1 635.5 421.1 C637.68 421.1 640.08 421.25 642.5 421.3 C644.92 421.35 646.25 421.43 650 421.4 C653.75 421.37 660.25 421.18 665 421.1 C669.75 421.02 676.25 420.93 678.5 420.9" fill="none" stroke="#1a1a1a" stroke-width="1.8" stroke-linejoin="round"/>
<path d="M134.8 488.5 L232.4 446.3 L331.9 446.3" fill="none" stroke="#2323c4" stroke-width="1.8" stroke-linejoin="round" stroke-linecap="butt" />
<path d="M85 488.5 L85.82 488.5 L86.64 488.5 L87.46 488.5 L88.28 488.5 L89.1 488.5 L89.92 488.5 L90.74 488.5 L91.56 488.5 L92.39 488.5 L93.21 488.5 L94.03 488.5 L94.85 488.5 L95.67 488.5 L96.49 488.5 L97.31 488.5 L98.13 488.5 L98.95 488.5 L99.77 488.5 L100.59 488.5 L101.41 488.5 L102.23 488.5 L103.05 488.5 L103.87 488.5 L104.69 488.5 L105.52 488.5 L106.34 488.5 L107.16 488.5 L107.98 488.5 L108.8 488.5 L109.62 488.5 L110.44 488.5 L111.26 488.5 L112.08 488.5 L112.9 488.5 L113.72 488.5 L114.54 488.5 L115.36 488.5 L116.18 488.5 L117 488.5 L117.82 488.5 L118.64 488.5 L119.47 488.5 L120.29 488.5 L121.11 488.5 L121.93 488.5 L122.75 488.5 L123.57 488.5 L124.39 488.5 L125.21 488.5 L126.03 488.5 L126.85 488.5 L127.67 488.5 L128.49 488.5 L129.31 488.5 L130.13 488.5 L130.95 488.5 L131.77 488.5 L132.59 488.5 L133.42 488.5 L134.24 488.5 L135.06 488.5 L135.88 488.5 L136.7 488.5 L137.52 488.49 L138.34 488.48 L139.16 488.47 L139.98 488.45 L140.8 488.42 L141.62 488.38 L142.44 488.34 L143.26 488.29 L144.08 488.23 L144.9 488.17 L145.72 488.09 L146.55 488.01 L147.37 487.91 L148.19 487.81 L149.01 487.7 L149.83 487.59 L150.65 487.46 L151.47 487.32 L152.29 487.18 L153.11 487.03 L153.93 486.87 L154.75 486.7 L155.57 486.52 L156.39 486.34 L157.21 486.15 L158.03 485.95 L158.85 485.75 L159.67 485.54 L160.5 485.32 L161.32 485.1 L162.14 484.87 L162.96 484.64 L163.78 484.4 L164.6 484.15 L165.42 483.9 L166.24 483.64 L167.06 483.38 L167.88 483.12 L168.7 482.85 L169.52 482.57 L170.34 482.3 L171.16 482.01 L171.98 481.73 L172.8 481.44 L173.62 481.15 L174.45 480.85 L175.27 480.55 L176.09 480.25 L176.91 479.95 L177.73 479.64 L178.55 479.33 L179.37 479.02 L180.19 478.7 L181.01 478.39 L181.83 478.07 L182.65 477.75 L183.47 477.42 L184.29 477.1 L185.11 476.77 L185.93 476.44 L186.75 476.11 L187.57 475.78 L188.4 475.45 L189.22 475.12 L190.04 474.78 L190.86 474.44 L191.68 474.11 L192.5 473.77 L193.32 473.43 L194.14 473.09 L194.96 472.74 L195.78 472.4 L196.6 472.06 L197.42 471.71 L198.24 471.37 L199.06 471.02 L199.88 470.68 L200.7 470.33 L201.53 469.98 L202.35 469.63 L203.17 469.28 L203.99 468.93 L204.81 468.58 L205.63 468.23 L206.45 467.88 L207.27 467.53 L208.09 467.18 L208.91 466.82 L209.73 466.47 L210.55 466.12 L211.37 465.77 L212.19 465.41 L213.01 465.06 L213.83 464.7 L214.65 464.35 L215.48 463.99 L216.3 463.64 L217.12 463.28 L217.94 462.93 L218.76 462.57 L219.58 462.22 L220.4 461.86 L221.22 461.51 L222.04 461.15 L222.86 460.79 L223.68 460.44 L224.5 460.08 L225.32 459.72 L226.14 459.37 L226.96 459.01 L227.78 458.65 L228.61 458.29 L229.43 457.94 L230.25 457.58 L231.07 457.22 L231.89 456.86 L232.71 456.51 L233.53 456.15 L234.35 455.79 L235.17 455.44 L235.99 455.09 L236.81 454.75 L237.63 454.41 L238.45 454.08 L239.27 453.76 L240.09 453.44 L240.91 453.14 L241.73 452.84 L242.56 452.55 L243.38 452.26 L244.2 451.99 L245.02 451.72 L245.84 451.47 L246.66 451.22 L247.48 450.98 L248.3 450.75 L249.12 450.53 L249.94 450.31 L250.76 450.11 L251.58 449.91 L252.4 449.72 L253.22 449.53 L254.04 449.36 L254.86 449.19 L255.68 449.03 L256.51 448.87 L257.33 448.73 L258.15 448.59 L258.97 448.45 L259.79 448.32 L260.61 448.2 L261.43 448.08 L262.25 447.97 L263.07 447.86 L263.89 447.76 L264.71 447.66 L265.53 447.56 L266.35 447.47 L267.17 447.39 L267.99 447.31 L268.81 447.23 L269.63 447.16 L270.46 447.09 L271.28 447.02 L272.1 446.96 L272.92 446.9 L273.74 446.84 L274.56 446.79 L275.38 446.74 L276.2 446.69 L277.02 446.64 L277.84 446.6 L278.66 446.55 L279.48 446.51 L280.3 446.48 L281.12 446.44 L281.94 446.41 L282.76 446.37 L283.59 446.34 L284.41 446.31 L285.23 446.29 L286.05 446.26 L286.87 446.24 L287.69 446.21 L288.51 446.19 L289.33 446.17 L290.15 446.15 L290.97 446.13 L291.79 446.11 L292.61 446.1 L293.43 446.08 L294.25 446.06 L295.07 446.05 L295.89 446.04 L296.71 446.02 L297.54 446.01 L298.36 446 L299.18 445.99 L300 445.98 L300.82 445.97 L301.64 445.96 L302.46 445.95 L303.28 445.94 L304.1 445.93 L304.92 445.93 L305.74 445.92 L306.56 445.91 L307.38 445.91 L308.2 445.9 L309.02 445.89 L309.84 445.89 L310.67 445.88 L311.49 445.88 L312.31 445.88 L313.13 445.87 L313.95 445.87 L314.77 445.86 L315.59 445.86 L316.41 445.86 L317.23 445.85 L318.05 445.85 L318.87 445.85 L319.69 445.84 L320.51 445.84 L321.33 445.84 L322.15 445.84 L322.97 445.84 L323.79 445.83 L324.62 445.83 L325.44 445.83 L326.26 445.83 L327.08 445.83 L327.9 445.82 L328.72 445.82 L329.54 445.82 L330.36 445.82 L331.9 445.82" fill="none" stroke="#e02228" stroke-width="1.9" stroke-linejoin="round" stroke-linecap="butt" />
<path d="M510 446.8 L675.9 446.8" fill="none" stroke="#2323c4" stroke-width="1.8" stroke-linejoin="round" stroke-linecap="butt" />
<path d="M433.7 446.8 L514.6 446.8" fill="none" stroke="#e02228" stroke-width="1.9" stroke-linejoin="round" stroke-linecap="butt" />
<path d="M514.6 446.8 C515.68 448.28 518.68 452.62 521.1 455.7 C523.52 458.78 526.43 462.37 529.1 465.3 C531.77 468.23 534.43 470.83 537.1 473.3 C539.77 475.77 542.95 478.48 545.1 480.1 C547.25 481.72 548.43 482.2 550 483 C551.57 483.8 553.75 484.58 554.5 484.9" fill="none" stroke="#e02228" stroke-width="1.9" stroke-linejoin="round"/>
<path d="M554.5 484.9 C555.35 483.92 557.68 481.47 559.6 479 C561.52 476.53 563.87 472.92 566 470.1 C568.13 467.28 570.25 464.5 572.4 462.1 C574.55 459.7 576.75 457.52 578.9 455.7 C581.05 453.88 582.9 452.55 585.3 451.2 C587.7 449.85 590.62 448.47 593.3 447.6 C595.98 446.73 598.72 446.38 601.4 446 C604.08 445.62 606.3 445.42 609.4 445.3 C612.5 445.18 608.92 445.3 620 445.3 C631.08 445.3 666.58 445.3 675.9 445.3" fill="none" stroke="#e02228" stroke-width="1.9" stroke-linejoin="round"/>
<path d="M221.8 239.3 Q227.45 208.6 233.1 208.6 Q238.1 208.6 243.1 239.3" fill="none" stroke="#2323c4" stroke-width="2"/>
<path d="M222.4 239.3 Q227.8 215.6 233.2 215.6 Q237.9 215.6 242.6 239.3" fill="none" stroke="#e02228" stroke-width="2"/>
<rect x="213.2" y="202.8" width="39.3" height="36.5" fill="none" stroke="#4a4a4a" stroke-width="1.1"/>
<line x1="223.4" y1="252.8" x2="227.61" y2="246.3" stroke="#1a1a1a" stroke-width="1.1"/>
<path d="M229.3 243.7 L228.94 247.75 L225.75 245.69 Z" fill="#1a1a1a"/>
<path d="M291.1 237.3 Q295.8 205.1 300.5 205.1 Q305 205.1 309.5 237.3" fill="none" stroke="#e02228" stroke-width="2"/>
<rect x="281.5" y="200.3" width="39.2" height="37" fill="none" stroke="#4a4a4a" stroke-width="1.1"/>
<line x1="294.1" y1="247.7" x2="298.08" y2="242.21" stroke="#1a1a1a" stroke-width="1.1"/>
<path d="M299.9 239.7 L299.33 243.73 L296.25 241.5 Z" fill="#1a1a1a"/>
<path d="M572.4 241.4 Q577 208.6 581.6 208.6 Q585.85 208.6 590.1 241.4" fill="none" stroke="#2323c4" stroke-width="2"/>
<path d="M571.5 241.4 Q575.75 214 580 214 Q584.5 214 589 241.4" fill="none" stroke="#e02228" stroke-width="2"/>
<rect x="561.2" y="204.6" width="39" height="36.8" fill="none" stroke="#4a4a4a" stroke-width="1.1"/>
<line x1="572" y1="252.8" x2="576.41" y2="246.53" stroke="#1a1a1a" stroke-width="1.1"/>
<path d="M578.2 244 L577.68 248.04 L574.57 245.85 Z" fill="#1a1a1a"/>
<path d="M641.4 235.8 Q646.3 203.6 651.2 203.6 Q655.9 203.6 660.6 235.8" fill="none" stroke="#e02228" stroke-width="2"/>
<rect x="632.1" y="199.1" width="39.4" height="36.7" fill="none" stroke="#4a4a4a" stroke-width="1.1"/>
<line x1="643" y1="249.2" x2="646.89" y2="243.29" stroke="#1a1a1a" stroke-width="1.1"/>
<path d="M648.6 240.7 L648.21 244.75 L645.03 242.66 Z" fill="#1a1a1a"/>
</svg>
</body></html>
